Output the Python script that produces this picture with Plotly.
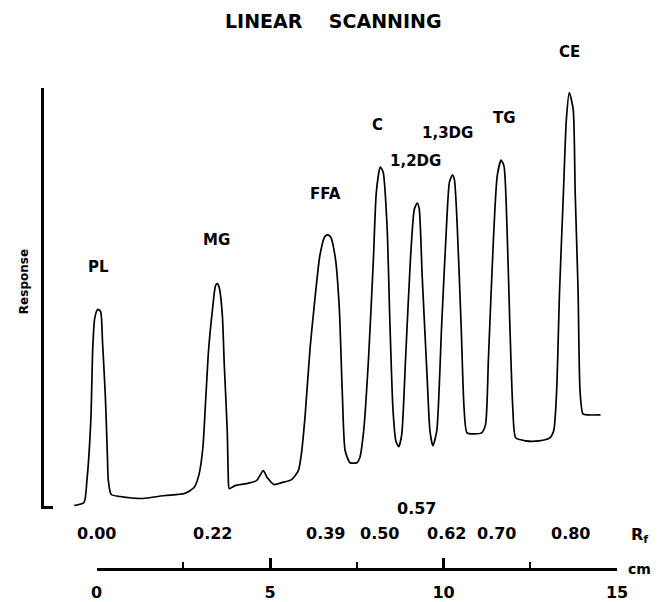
import plotly.graph_objects as go

# ---- data: densitometer trace (distance along plate in cm, response in arbitrary units)
dist_cm = [-0.644, -0.364, -0.280, -0.168, -0.112, -0.056, 0.028, 0.112, 0.168, 0.252,
           0.308, 0.336, 0.420, 0.672, 1.317, 1.961, 2.521, 2.801, 2.941, 3.053,
           3.137, 3.221, 3.333, 3.417, 3.473, 3.529, 3.613, 3.669, 3.754, 3.782,
           3.810, 3.978, 4.314, 4.594, 4.790, 4.902, 5.098, 5.322, 5.602, 5.798,
           5.882, 5.994, 6.134, 6.275, 6.415, 6.555, 6.639, 6.723, 6.863, 6.975,
           7.059, 7.143, 7.283, 7.479, 7.563, 7.675, 7.815, 7.955, 8.039, 8.151,
           8.235, 8.347, 8.431, 8.515, 8.599, 8.683, 8.768, 8.880, 9.020, 9.132,
           9.216, 9.272, 9.356, 9.496, 9.580, 9.664, 9.776, 9.916, 10.056, 10.140,
           10.224, 10.280, 10.364, 10.476, 10.560, 10.644, 10.840, 11.064, 11.176, 11.261,
           11.401, 11.513, 11.625, 11.709, 11.793, 11.877, 11.961, 12.045, 12.325, 12.717,
           13.025, 13.137, 13.221, 13.305, 13.417, 13.501, 13.585, 13.697, 13.754, 13.838,
           13.894, 13.978, 14.118, 14.482]
response = [2, 5, 27, 87, 160, 190, 199, 197, 167, 110,
            53, 27, 13, 11, 9, 12, 14, 20, 33, 60,
            110, 160, 200, 223, 225, 220, 193, 143, 77, 33,
            19, 22, 24, 27, 37, 30, 23, 25, 28, 37,
            53, 93, 160, 210, 253, 272, 274, 272, 250, 200,
            117, 57, 45, 45, 50, 77, 150, 250, 317, 342,
            337, 283, 183, 100, 67, 61, 73, 150, 250, 300,
            306, 300, 233, 133, 77, 62, 77, 183, 283, 327,
            334, 330, 283, 183, 100, 75, 74, 75, 83, 150,
            267, 333, 349, 343, 283, 183, 100, 70, 67, 67,
            70, 77, 117, 217, 317, 390, 417, 400, 317, 217,
            117, 94, 93, 93]

peak_names = ["PL", "MG", "FFA", "C", "1,2DG", "1,3DG", "TG", "CE"]
peak_label_x = [0.056, 3.445, 6.583, 8.067, 9.160, 10.084, 11.709, 13.585]
peak_label_y = [242, 269, 315, 384, 348, 376, 391, 458]

rf_labels = ["0.00", "0.22", "0.39", "0.50", "0.57", "0.62", "0.70", "0.80"]
rf_label_x = [0.0, 3.333, 6.583, 8.123, 9.188, 10.056, 11.485, 13.613]
rf_label_y = [-26, -26, -26, -26, -1, -26, -26, -26]

cm_major = [0, 5, 10, 15]
cm_minor = [2.5, 7.5, 12.5]

W, H = 668, 602
FONT = "DejaVu Sans"
CLEAR = "rgba(0,0,0,0)"

fig = go.Figure()
# helper traces so the auxiliary axes exist (nothing visible)
fig.add_trace(go.Scatter(x=[None], y=[None], xaxis="x2", yaxis="y",
                         showlegend=False, hoverinfo="skip"))
fig.add_trace(go.Scatter(x=[None], y=[None], xaxis="x", yaxis="y2",
                         showlegend=False, hoverinfo="skip"))
fig.add_trace(go.Scatter(x=dist_cm, y=response, mode="lines", xaxis="x", yaxis="y",
                         line=dict(color="black", width=1.7, shape="spline", smoothing=0.6),
                         hoverinfo="skip", showlegend=False, cliponaxis=False))

fig.update_layout(
    width=W, height=H, margin=dict(l=0, r=0, t=0, b=0),
    paper_bgcolor="white", plot_bgcolor=CLEAR,
    xaxis=dict(domain=[39 / W, 1], range=[-1.513, 16.106], visible=False),
    xaxis2=dict(domain=[93 / W, 627 / W], range=[0, 15], anchor="free",
                position=(H - 572) / H, showline=True, linecolor="black", linewidth=2.5,
                tickmode="array", tickvals=cm_major, ticks="inside", ticklen=10,
                tickwidth=2.5, tickcolor="black", showgrid=False, zeroline=False,
                ticklabelstandoff=8,
                tickfont=dict(family=FONT, size=16, color="black", weight="bold"),
                minor=dict(tickvals=cm_minor, ticks="inside", ticklen=6, tickwidth=2,
                           tickcolor="black", showgrid=False)),
    yaxis=dict(domain=[(H - 512) / H, (H - 88) / H], range=[-2, 422],
               showline=True, linecolor="black", linewidth=3, showgrid=False,
               zeroline=False, tickmode="array", tickvals=[0], ticks="inside",
               ticklen=9, tickwidth=3, tickcolor="black", showticklabels=False),
    # full-height axis in the same response units, used to place the text labels
    yaxis2=dict(domain=[0, 1], range=[-92, 510], anchor="free", position=0,
                visible=False),
)

ann = []
ann.append(dict(text="LINEAR\u00a0\u00a0\u00a0\u00a0SCANNING", xref="paper", yref="paper",
                x=336 / W, y=1 - 21 / H, showarrow=False, xanchor="center", yanchor="middle",
                font=dict(family=FONT, size=19, color="black", weight="bold")))
ann.append(dict(text="Response", xref="paper", yref="paper", x=18 / W, y=1 - 283 / H,
                textangle=-90, showarrow=False, xanchor="center", yanchor="middle",
                font=dict(family=FONT, size=12, color="black", weight="bold")))
for name, x, y in zip(peak_names, peak_label_x, peak_label_y):
    ann.append(dict(text=name, x=x, y=y, xref="x", yref="y2", showarrow=False,
                    xanchor="center", yanchor="middle",
                    font=dict(family=FONT, size=15, color="black", weight="bold")))
for lab, x, y in zip(rf_labels, rf_label_x, rf_label_y):
    ann.append(dict(text=lab, x=x, y=y, xref="x", yref="y2", showarrow=False,
                    xanchor="center", yanchor="middle",
                    font=dict(family=FONT, size=16, color="black", weight="bold")))
ann.append(dict(text="R<sub>f</sub>", x=15.602, y=-28, xref="x", yref="y2", showarrow=False,
                xanchor="center", yanchor="middle",
                font=dict(family=FONT, size=16, color="black", weight="bold")))
ann.append(dict(text="cm", x=15.602, y=-62, xref="x", yref="y2", showarrow=False,
                xanchor="center", yanchor="middle",
                font=dict(family=FONT, size=14, color="black", weight="bold")))
fig.update_layout(annotations=ann)

fig.write_html("out.html")
